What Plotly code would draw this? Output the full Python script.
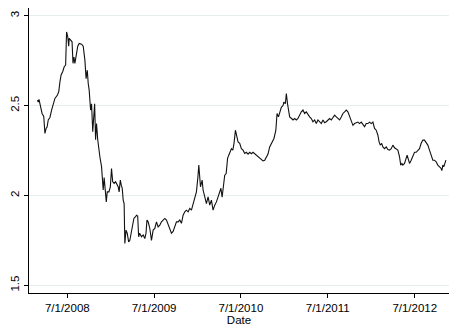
import plotly.graph_objects as go

# Daily series, sampled along its path (date, value)
dates = [
    "2008-02-26", "2008-03-01", "2008-03-04", "2008-03-11", "2008-03-17", "2008-03-24",
    "2008-03-29", "2008-04-03", "2008-04-07", "2008-04-12", "2008-04-19", "2008-04-26",
    "2008-05-03", "2008-05-10", "2008-05-20", "2008-05-26", "2008-05-31", "2008-06-05",
    "2008-06-12", "2008-06-18", "2008-06-24", "2008-06-27", "2008-06-28", "2008-07-03",
    "2008-07-07", "2008-07-09", "2008-07-15", "2008-07-21", "2008-07-25", "2008-07-29",
    "2008-08-02", "2008-08-07", "2008-08-14", "2008-08-20", "2008-08-30", "2008-09-06",
    "2008-09-13", "2008-09-18", "2008-09-23", "2008-09-27", "2008-10-01", "2008-10-07",
    "2008-10-11", "2008-10-16", "2008-10-20", "2008-10-24", "2008-10-28", "2008-11-01",
    "2008-11-06", "2008-11-10", "2008-11-15", "2008-11-22", "2008-11-29", "2008-12-03",
    "2008-12-08", "2008-12-12", "2008-12-16", "2008-12-23", "2008-12-29", "2009-01-03",
    "2009-01-08", "2009-01-14", "2009-01-20", "2009-01-26", "2009-01-31", "2009-02-04",
    "2009-02-09", "2009-02-13", "2009-02-17", "2009-02-21", "2009-02-25", "2009-02-28",
    "2009-03-05", "2009-03-10", "2009-03-16", "2009-03-21", "2009-03-26", "2009-04-02",
    "2009-04-07", "2009-04-13", "2009-04-18", "2009-04-23", "2009-04-27", "2009-05-01",
    "2009-05-09", "2009-05-16", "2009-05-23", "2009-05-28", "2009-06-01", "2009-06-06",
    "2009-06-13", "2009-06-20", "2009-06-27", "2009-07-04", "2009-07-11", "2009-07-18",
    "2009-07-25", "2009-08-01", "2009-08-08", "2009-08-15", "2009-08-22", "2009-08-29",
    "2009-09-05", "2009-09-12", "2009-09-19", "2009-09-26", "2009-10-03", "2009-10-10",
    "2009-10-17", "2009-10-24", "2009-10-31", "2009-11-07", "2009-11-14", "2009-11-21",
    "2009-11-28", "2009-12-05", "2009-12-12", "2009-12-19", "2009-12-26", "2010-01-01",
    "2010-01-05", "2010-01-12", "2010-01-19", "2010-01-23", "2010-01-30", "2010-02-06",
    "2010-02-13", "2010-02-20", "2010-02-27", "2010-03-06", "2010-03-13", "2010-03-20",
    "2010-03-27", "2010-04-03", "2010-04-08", "2010-04-13", "2010-04-19", "2010-04-24",
    "2010-04-30", "2010-05-06", "2010-05-11", "2010-05-17", "2010-05-22", "2010-05-28",
    "2010-06-02", "2010-06-08", "2010-06-14", "2010-06-19", "2010-06-26", "2010-07-03",
    "2010-07-10", "2010-07-17", "2010-07-24", "2010-07-31", "2010-08-07", "2010-08-14",
    "2010-08-21", "2010-08-28", "2010-09-04", "2010-09-11", "2010-09-18", "2010-09-25",
    "2010-10-02", "2010-10-09", "2010-10-16", "2010-10-23", "2010-10-30", "2010-11-06",
    "2010-11-13", "2010-11-17", "2010-11-25", "2010-11-30", "2010-12-06", "2010-12-11",
    "2010-12-18", "2010-12-25", "2010-12-29", "2011-01-04", "2011-01-08", "2011-01-13",
    "2011-01-18", "2011-01-22", "2011-01-30", "2011-02-05", "2011-02-12", "2011-02-19",
    "2011-02-26", "2011-03-05", "2011-03-12", "2011-03-19", "2011-03-26", "2011-04-02",
    "2011-04-09", "2011-04-16", "2011-04-23", "2011-04-30", "2011-05-07", "2011-05-14",
    "2011-05-21", "2011-05-28", "2011-06-04", "2011-06-11", "2011-06-18", "2011-06-25",
    "2011-07-02", "2011-07-09", "2011-07-16", "2011-07-23", "2011-07-30", "2011-08-06",
    "2011-08-13", "2011-08-20", "2011-08-27", "2011-09-03", "2011-09-10", "2011-09-17",
    "2011-09-24", "2011-10-01", "2011-10-08", "2011-10-15", "2011-10-22", "2011-10-29",
    "2011-11-05", "2011-11-12", "2011-11-19", "2011-11-26", "2011-12-03", "2011-12-10",
    "2011-12-17", "2011-12-24", "2011-12-31", "2012-01-07", "2012-01-14", "2012-01-21",
    "2012-01-28", "2012-02-02", "2012-02-07", "2012-02-13", "2012-02-18", "2012-02-25",
    "2012-03-03", "2012-03-10", "2012-03-17", "2012-03-24", "2012-03-31", "2012-04-07",
    "2012-04-14", "2012-04-21", "2012-04-28", "2012-05-03", "2012-05-08", "2012-05-12",
    "2012-05-19", "2012-05-26", "2012-05-30", "2012-06-05", "2012-06-09", "2012-06-16",
    "2012-06-23", "2012-06-30", "2012-07-07", "2012-07-14", "2012-07-21", "2012-07-28",
    "2012-08-04", "2012-08-11", "2012-08-18", "2012-08-25", "2012-09-01", "2012-09-08",
    "2012-09-15", "2012-09-22", "2012-09-29", "2012-10-06", "2012-10-13", "2012-10-20",
    "2012-10-23", "2012-10-27", "2012-10-31", "2012-11-05", "2012-11-09",
]

values = [
    2.530, 2.520, 2.534, 2.500, 2.456, 2.440,
    2.345, 2.373, 2.380, 2.420, 2.434, 2.475,
    2.510, 2.540, 2.557, 2.577, 2.632, 2.670,
    2.690, 2.716, 2.725, 2.810, 2.910, 2.883,
    2.830, 2.874, 2.864, 2.855, 2.735, 2.770,
    2.735, 2.780, 2.830, 2.846, 2.842, 2.830,
    2.753, 2.650, 2.697, 2.623, 2.586, 2.475,
    2.510, 2.354, 2.475, 2.510, 2.310, 2.400,
    2.310, 2.260, 2.215, 2.160, 2.030, 2.100,
    2.020, 1.964, 2.020, 2.020, 2.048, 2.150,
    2.076, 2.067, 2.076, 2.057, 2.048, 2.020,
    2.085, 2.057, 2.040, 1.974, 1.955, 1.733,
    1.807, 1.790, 1.742, 1.750, 1.790, 1.825,
    1.872, 1.880, 1.890, 1.885, 1.770, 1.790,
    1.770, 1.780, 1.760, 1.790, 1.863, 1.853,
    1.816, 1.750, 1.807, 1.816, 1.853, 1.825,
    1.835, 1.853, 1.863, 1.872, 1.863, 1.835,
    1.807, 1.790, 1.800, 1.825, 1.853, 1.853,
    1.863, 1.845, 1.890, 1.909, 1.918, 1.909,
    1.928, 1.918, 1.955, 1.983, 2.020, 2.100,
    2.169, 2.048, 2.085, 2.030, 1.983, 1.955,
    1.992, 1.946, 1.974, 1.918, 1.946, 1.964,
    1.992, 2.020, 2.040, 1.990, 2.048, 2.113,
    2.122, 2.206, 2.224, 2.243, 2.260, 2.252,
    2.290, 2.363, 2.317, 2.298, 2.290, 2.260,
    2.252, 2.234, 2.240, 2.230, 2.240, 2.232,
    2.240, 2.232, 2.224, 2.212, 2.206, 2.200,
    2.192, 2.196, 2.212, 2.230, 2.270, 2.290,
    2.310, 2.317, 2.363, 2.456, 2.437, 2.465,
    2.490, 2.500, 2.520, 2.510, 2.567, 2.510,
    2.465, 2.437, 2.428, 2.420, 2.428, 2.420,
    2.428, 2.447, 2.465, 2.475, 2.456, 2.465,
    2.447, 2.437, 2.428, 2.410, 2.420, 2.400,
    2.420, 2.410, 2.400, 2.420, 2.405, 2.410,
    2.420, 2.428, 2.420, 2.437, 2.447, 2.437,
    2.428, 2.420, 2.437, 2.456, 2.465, 2.475,
    2.465, 2.437, 2.405, 2.390, 2.400, 2.405,
    2.408, 2.400, 2.408, 2.395, 2.382, 2.400,
    2.400, 2.408, 2.400, 2.408, 2.373, 2.363,
    2.335, 2.298, 2.280, 2.290, 2.270, 2.260,
    2.270, 2.255, 2.252, 2.260, 2.280, 2.265,
    2.260, 2.252, 2.215, 2.169, 2.178, 2.169,
    2.178, 2.215, 2.224, 2.196, 2.178, 2.196,
    2.215, 2.240, 2.240, 2.252, 2.260, 2.290,
    2.308, 2.308, 2.290, 2.280, 2.252, 2.224,
    2.196, 2.196, 2.187, 2.169, 2.159, 2.150,
    2.138, 2.169, 2.159, 2.187, 2.196,
]

x_tick_vals = ["2008-07-01", "2009-07-01", "2010-07-01", "2011-07-01", "2012-07-01"]
x_tick_text = ["7/1/2008", "7/1/2009", "7/1/2010", "7/1/2011", "7/1/2012"]
y_tick_vals = [1.5, 2, 2.5, 3]
y_tick_text = ["1.5", "2", "2.5", "3"]

FONT = "Liberation Sans, Arial, sans-serif"

fig = go.Figure()
fig.add_trace(go.Scatter(
    x=dates, y=values, mode="lines",
    line=dict(color="#111111", width=1.1),
    showlegend=False, hoverinfo="skip",
))

fig.update_layout(
    width=450, height=326,
    margin=dict(l=29, r=1, t=8, b=33),
    paper_bgcolor="white", plot_bgcolor="white",
    font=dict(family=FONT, size=11, color="black"),
)

fig.update_xaxes(
    type="date",
    range=["2008-01-22", "2012-11-22"],
    tickvals=x_tick_vals, ticktext=x_tick_text,
    showgrid=False, zeroline=False,
    showline=True, linecolor="black", linewidth=1,
    ticks="outside", ticklen=4, tickcolor="black", tickwidth=1,
    tickfont=dict(size=11.5),
    title=dict(text="Date", font=dict(size=11.5), standoff=0),
)

fig.update_yaxes(
    range=[1.457, 3.043],
    tickvals=y_tick_vals, ticktext=y_tick_text,
    tickangle=-90,
    showgrid=True, gridcolor="#e6eff0", gridwidth=1,
    zeroline=False,
    showline=True, linecolor="black", linewidth=1,
    ticks="outside", ticklen=4, tickcolor="black", tickwidth=1,
    tickfont=dict(size=11.5),
)

fig.write_html("out.html")
